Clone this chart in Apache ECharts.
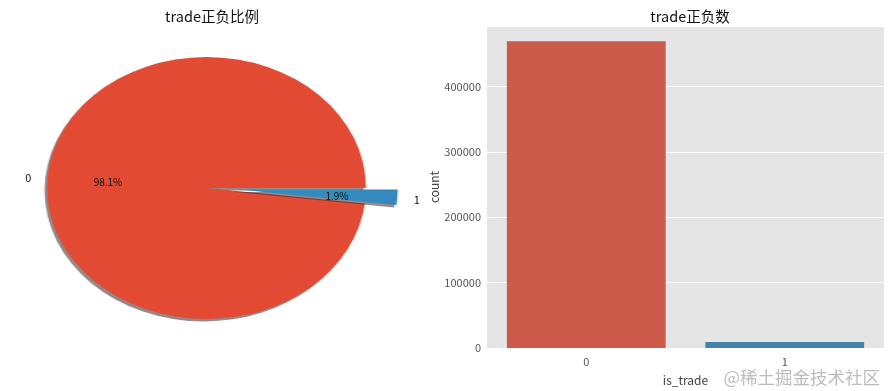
<!DOCTYPE html>
<html><head><meta charset="utf-8">
<script src="https://cdn.jsdelivr.net/npm/echarts@6/dist/echarts.min.js"></script>
<style>
html,body{margin:0;padding:0;background:#fff;}
#main{position:absolute;left:0;top:0;width:891px;height:391px;z-index:2;}
#pie{position:absolute;left:0;top:0;width:366px;height:391px;transform:scaleX(1.218);transform-origin:0 0;z-index:1;}
</style></head>
<body>
<div id="pie"></div>
<div id="main"></div>
<script>
// Data
const categories = ['0', '1'];
const counts = [469000, 9000];
const pieColors = ['#E24A33', '#348ABD'];
const barColors = ['#cb5a4a', '#4283a8'];
const yTicks = [0, 100000, 200000, 300000, 400000];
const titles = ['trade正负比例', 'trade正负数'];

const FONT = '"Noto Sans CJK SC", "DejaVu Sans", sans-serif';
const pieData = categories.map((c, i) => ({name: c, value: counts[i], selected: i === 1}));

// Elliptical pie (scaled container)
const pie = echarts.init(document.getElementById('pie'));
pie.setOption({
  animation: false,
  series: [{
    type: 'pie',
    center: [169.5, 188],
    radius: 131,
    startAngle: 0,
    clockwise: false,
    selectedMode: 'multiple',
    selectedOffset: 26,
    silent: true,
    label: {show: false},
    labelLine: {show: false},
    itemStyle: {
      shadowColor: 'rgba(60,40,40,0.55)',
      shadowBlur: 0,
      shadowOffsetX: -2,
      shadowOffsetY: 2.5
    },
    data: pieData.map((d, i) => Object.assign({}, d, {itemStyle: {color: pieColors[i]}}))
  }]
});

// Main: titles, bar chart, pie labels
const main = echarts.init(document.getElementById('main'));
main.setOption({
  animation: false,
  textStyle: {fontFamily: FONT},
  title: [
    {text: titles[0], left: 207, top: 4, textAlign: 'center',
     textStyle: {fontFamily: FONT, fontSize: 14.5, fontWeight: 'normal', color: '#111'}},
    {text: titles[1], left: 685, top: 4, textAlign: 'center',
     textStyle: {fontFamily: FONT, fontSize: 14.5, fontWeight: 'normal', color: '#111'}},
    {text: '@稀土掘金技术社区', right: 6, top: 364,
     textStyle: {fontFamily: FONT, fontSize: 17.5, fontWeight: 'normal', color: 'rgba(160,160,160,0.7)'}}
  ],
  grid: {left: 487, right: 7, top: 26, bottom: 40, show: true, backgroundColor: '#E5E5E5', borderWidth: 0},
  xAxis: {
    type: 'category',
    data: categories,
    name: 'is_trade',
    nameLocation: 'middle',
    nameGap: 26,
    nameTextStyle: {fontFamily: FONT, fontSize: 12, color: '#444'},
    axisLine: {show: false},
    axisTick: {show: false},
    axisLabel: {fontFamily: FONT, fontSize: 11, color: '#555', margin: 8},
    splitLine: {show: false}
  },
  yAxis: {
    type: 'value',
    min: 0,
    max: 492450,
    interval: 100000,
    name: 'count',
    nameLocation: 'middle',
    nameGap: 45,
    nameRotate: 90,
    nameTextStyle: {fontFamily: FONT, fontSize: 12, color: '#444'},
    axisLine: {show: false},
    axisTick: {show: false},
    axisLabel: {fontFamily: FONT, fontSize: 11, color: '#555', margin: 6, showMaxLabel: false,
      formatter: v => (yTicks.indexOf(v) >= 0 ? String(v) : '')},
    splitLine: {show: true, lineStyle: {color: '#fff', width: 1}}
  },
  series: [
    {
      type: 'bar',
      data: counts.map((v, i) => ({value: v, itemStyle: {color: barColors[i]}})),
      barWidth: '80%',
      silent: true
    },
    // category labels of the pie (outside)
    {
      type: 'pie',
      center: [206.5, 188],
      radius: 159.5,
      startAngle: 0,
      clockwise: false,
      selectedMode: 'multiple',
      selectedOffset: 32,
      silent: true,
      avoidLabelOverlap: false,
      itemStyle: {color: 'rgba(0,0,0,0)'},
      label: {show: true, position: 'outside', formatter: '{b}', fontFamily: FONT, fontSize: 11, color: '#111', distanceToLabelLine: 0},
      labelLine: {show: false, length: 16, length2: 0},
      emphasis: {disabled: true},
      data: pieData
    },
    // percentage labels (inside at 0.6 r)
    {
      type: 'pie',
      center: [206.5, 188],
      radius: 191.4,
      startAngle: 0,
      clockwise: false,
      selectedMode: 'multiple',
      selectedOffset: 32,
      silent: true,
      percentPrecision: 1,
      avoidLabelOverlap: false,
      itemStyle: {color: 'rgba(0,0,0,0)'},
      label: {show: true, position: 'inside', formatter: '{d}%', fontFamily: FONT, fontSize: 10, color: '#111'},
      labelLine: {show: false},
      emphasis: {disabled: true},
      data: pieData
    }
  ]
});
</script>
</body></html>
